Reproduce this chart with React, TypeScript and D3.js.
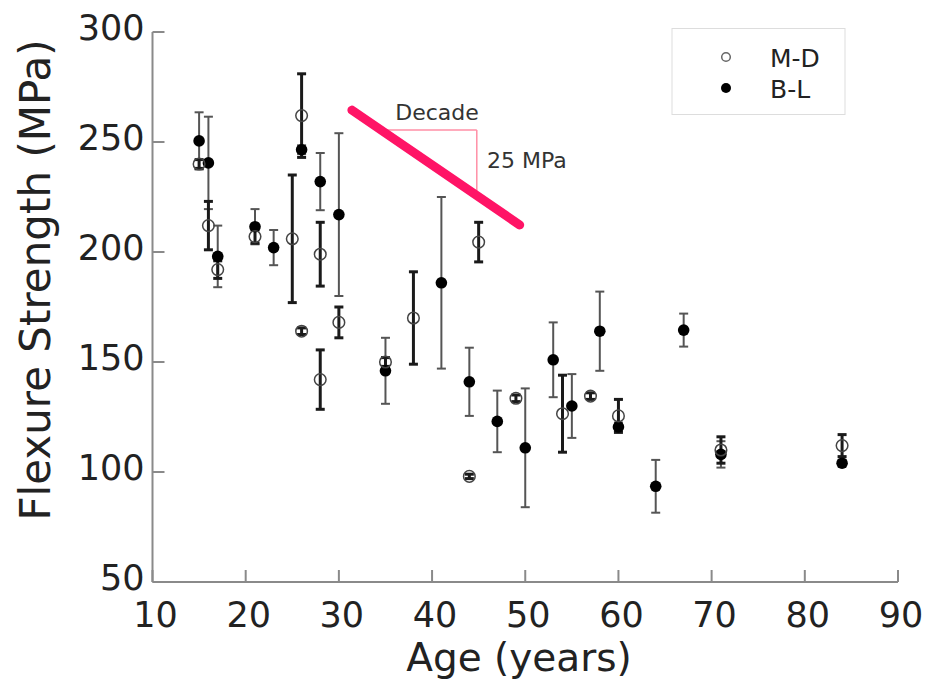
import React from "react";
import * as d3 from "d3";

// M-D (open circles): age, strength, error
const mdAge = [15, 16, 17, 21, 25, 26, 26, 28, 28, 30, 35, 38, 44, 45, 49, 54, 57, 60, 71, 84];
const mdVal = [240, 212, 192, 207, 206, 262, 164, 199, 142, 168, 150, 170, 98, 204.5, 133.5, 126.5, 134.5, 125.5, 110, 112];
const mdErr = [2, 11, 4, 3, 29, 19, 1.5, 14.5, 13.5, 7, 2, 21, 1, 9, 1.5, 17.5, 1.5, 7.5, 6, 5];

// B-L (filled circles)
const blAge = [15, 16, 17, 21, 23, 26, 28, 30, 35, 41, 44, 47, 50, 53, 55, 58, 60, 64, 67, 71, 84];
const blVal = [250.5, 240.5, 198, 211.5, 202, 246.5, 232, 217, 146, 186, 141, 123, 111, 151, 130, 164, 120.5, 93.5, 164.5, 108, 104];
const blErr = [13, 21, 14, 8, 8, 2, 13, 37, 15, 39, 15.5, 14, 27, 17, 14.5, 18, 2, 12, 7.5, 6, 1.5];

const xTicks = [10, 20, 30, 40, 50, 60, 70, 80, 90];
const yTicks = [50, 100, 150, 200, 250, 300];

// Slope annotation (data coordinates)
const slopeLine: [number, number][] = [[31.4, 264.5], [49.4, 212.3]];
const triTopValue = 255.5;
const triRightAge = 44.8;

const FONT = "'DejaVu Sans', Verdana, sans-serif";

export default function App() {
  const x = d3.scaleLinear().domain([10, 90]).range([152.5, 898]);
  const y = d3.scaleLinear().domain([50, 300]).range([582, 32]);

  const mdData = mdAge.map((a, i) => ({ a, v: mdVal[i], e: mdErr[i] }));
  const blData = blAge.map((a, i) => ({ a, v: blVal[i], e: blErr[i] }));

  const slope = (slopeLine[1][1] - slopeLine[0][1]) / (slopeLine[1][0] - slopeLine[0][0]);
  const lineAt = (a: number) => slopeLine[0][1] + slope * (a - slopeLine[0][0]);
  const triLeftAge = slopeLine[0][0] + (triTopValue - slopeLine[0][1]) / slope;

  const cap = 4.5;
  const errBar = (d: { a: number; v: number; e: number }, i: number, color: string, w: number) => {
    const cx = x(d.a);
    const y1 = y(d.v + d.e);
    const y2 = y(d.v - d.e);
    return (
      <g key={i} stroke={color} strokeWidth={w}>
        <line x1={cx} x2={cx} y1={y1} y2={y2} />
        <line x1={cx - cap} x2={cx + cap} y1={y1} y2={y1} />
        <line x1={cx - cap} x2={cx + cap} y1={y2} y2={y2} />
      </g>
    );
  };

  return (
    <svg width={930} height={685} style={{ position: "absolute", left: 0, top: 0, background: "#fff" }} fontFamily={FONT}>
      <rect width={930} height={685} fill="#fff" />
      {/* axes */}
      <g stroke="#8a8a8a" strokeWidth={2} fill="none">
        <line x1={x(10)} x2={x(10)} y1={y(300)} y2={y(50)} />
        <line x1={x(10)} x2={x(90)} y1={y(50)} y2={y(50)} />
        {yTicks.map((t) => (
          <line key={t} x1={x(10)} x2={x(10) + 12} y1={y(t)} y2={y(t)} />
        ))}
        {xTicks.map((t) => (
          <line key={t} x1={x(t)} x2={x(t)} y1={y(50)} y2={y(50) - 12} />
        ))}
      </g>
      {yTicks.map((t) => (
        <text key={t} x={x(10) - 8} y={y(t) + 7.5} textAnchor="end" fontSize={35} fill="#222">
          {t}
        </text>
      ))}
      {xTicks.map((t) => (
        <text key={t} x={x(t) + 3} y={627} textAnchor="middle" fontSize={35} fill="#222">
          {t}
        </text>
      ))}
      <text x={519} y={671} textAnchor="middle" fontSize={39} fill="#222">
        Age (years)
      </text>
      <text transform="translate(50,280) rotate(-90)" textAnchor="middle" fontSize={42} fill="#222">
        Flexure Strength (MPa)
      </text>

      {/* slope annotation */}
      <g stroke="#ff8fa6" strokeWidth={1.5} fill="none">
        <line x1={x(triLeftAge)} x2={x(triRightAge)} y1={y(triTopValue)} y2={y(triTopValue)} />
        <line x1={x(triRightAge)} x2={x(triRightAge)} y1={y(triTopValue)} y2={y(lineAt(triRightAge))} />
      </g>
      <line
        x1={x(slopeLine[0][0])}
        y1={y(slopeLine[0][1])}
        x2={x(slopeLine[1][0])}
        y2={y(slopeLine[1][1])}
        stroke="#ff1466"
        strokeWidth={9}
        strokeLinecap="round"
      />
      <text x={437} y={120} textAnchor="middle" fontSize={22} fill="#333">
        Decade
      </text>
      <text x={487} y={168} fontSize={22} fill="#333">
        25 MPa
      </text>

      {/* error bars */}
      {blData.map((d, i) => errBar(d, i, "#555", 2))}
      {mdData.map((d, i) => errBar(d, i + 100, "#1a1a1a", 3))}

      {/* markers */}
      {blData.map((d, i) => (
        <circle key={i} cx={x(d.a)} cy={y(d.v)} r={5.8} fill="#000" />
      ))}
      {mdData.map((d, i) => (
        <circle key={i} cx={x(d.a)} cy={y(d.v)} r={5.8} fill="none" stroke="#444" strokeWidth={1.5} />
      ))}

      {/* legend */}
      <rect x={672} y={28.5} width={173} height={86} fill="#fff" stroke="#ddd" strokeWidth={1} />
      <circle cx={726} cy={57} r={4.3} fill="none" stroke="#666" strokeWidth={1.5} />
      <circle cx={726} cy={88} r={5} fill="#000" />
      <text x={770} y={66.5} fontSize={25} fill="#222">M-D</text>
      <text x={770} y={98} fontSize={25} fill="#222">B-L</text>
    </svg>
  );
}
